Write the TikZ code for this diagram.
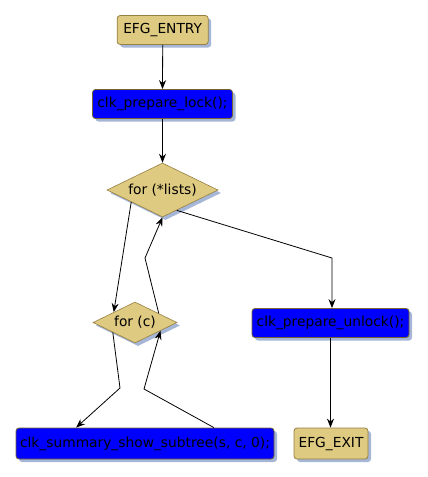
\documentclass[tikz,border=0pt]{standalone}
\usepackage{fontspec}
\setmainfont{DejaVu Sans}
\usetikzlibrary{shapes.geometric,shadows,arrows.meta}
\definecolor{tan}{RGB}{222,202,128}
\definecolor{tanborder}{RGB}{150,128,66}
\definecolor{blueborder}{RGB}{120,100,50}
\definecolor{shadowc}{RGB}{166,182,214}
\tikzset{
  shad/.style={drop shadow={shadow xshift=3pt,shadow yshift=-3pt,fill=shadowc,opacity=1}},
  termbox/.style={shad,draw=tanborder,fill=tan,line width=0.8pt,rounded corners=3pt,inner sep=0pt,font=\fontsize{13.8}{16}\selectfont},
  stmtbox/.style={shad,draw=blueborder,fill=blue,line width=0.8pt,rounded corners=3pt,inner sep=0pt,font=\fontsize{13.8}{16}\selectfont},
  decbox/.style={shad,diamond,aspect=2,draw=tanborder,fill=tan,line width=0.6pt,inner sep=0pt,font=\fontsize{13.8}{16}\selectfont},
  flow/.style={draw=black,line width=0.8pt,-{Stealth[length=9pt,width=7pt,inset=3pt]}}
}
\begin{document}
\begin{tikzpicture}[x=1pt,y=-1pt]
\useasboundingbox (0,0) rectangle (428,477);
\node[termbox,minimum width=91pt,minimum height=29pt] (entry) at (162.7,30) {EFG\_ENTRY};
\node[stmtbox,minimum width=140pt,minimum height=29pt] (lock) at (162.5,104) {clk\_prepare\_lock();};
\node[decbox,minimum width=111pt,minimum height=54pt] (lists) at (162.5,190) {for (*lists)};
\node[decbox,minimum width=84pt,minimum height=41pt] (forc) at (135,322.5) {for (c)};
\node[stmtbox,minimum width=157pt,minimum height=29pt] (unlock) at (330.5,323) {clk\_prepare\_unlock();};
\node[stmtbox,minimum width=258pt,minimum height=31pt] (summary) at (145,443.5) {clk\_summary\_show\_subtree(s, c, 0);};
\node[termbox,minimum width=74pt,minimum height=31pt] (exit) at (331,443.5) {EFG\_EXIT};
\coordinate (b1) at (332,258);
\coordinate (b2) at (145,258);
\coordinate (b3) at (120,388);
\coordinate (b4) at (144,389);
\draw[flow] (entry.south) -- (lock.north);
\draw[flow] (lock.south) -- (lists.north);
\draw[flow] (lists.201) -- (forc.154);
\draw[flow] (lists.-55) -- (b1) -- (b1 |- unlock.north);
\draw[flow] (forc.21) -- (b2) -- (lists.south);
\draw[flow] (forc.204) -- (b3) -- (summary.167);
\draw[flow] (summary.13) -- (b4) -- (forc.-18);
\draw[flow] (unlock.south) -- (unlock.south |- exit.north);
\end{tikzpicture}
\end{document}
